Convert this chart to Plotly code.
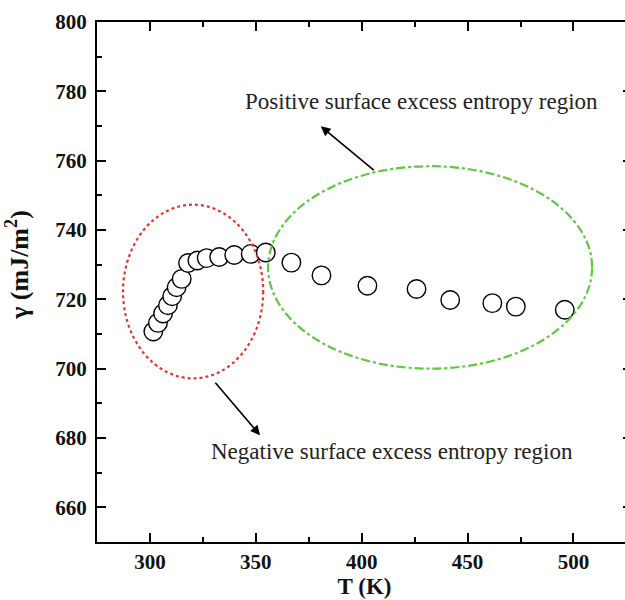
import plotly.graph_objects as go

# Data
T_K = [301.6, 303.8, 306.2, 308.5, 310.5, 312.6, 315.0, 318.0, 322.4, 326.8,
       332.7, 339.8, 347.6, 354.7, 366.8, 381.0, 402.7, 425.9, 441.8, 461.7,
       472.8, 495.9]
gamma = [710.7, 713.2, 715.9, 718.3, 720.9, 723.5, 725.9, 730.5, 731.2, 731.9,
         732.2, 732.8, 733.1, 733.5, 730.6, 726.9, 723.9, 723.0, 719.8, 718.9,
         717.9, 717.0]

x_ticks = [300, 350, 400, 450, 500]
y_ticks = [660, 680, 700, 720, 740, 760, 780, 800]

pos_label = "Positive surface excess entropy region"
neg_label = "Negative surface excess entropy region"
y_title = "<b>γ (mJ/m<sup>2</sup>)</b>"

fig = go.Figure()
fig.add_trace(go.Scatter(
    x=T_K, y=gamma, mode="markers",
    marker=dict(symbol="circle", size=18.5, color="white",
                line=dict(width=1.4, color="black")),
    showlegend=False, cliponaxis=False, hoverinfo="skip"))

serif = "Liberation Serif, Times New Roman, serif"

# ellipses
fig.add_shape(type="circle", xref="x", yref="y", x0=287.3, x1=353.5, y0=697.2, y1=747.3,
              line=dict(color="#e8332b", width=2.2, dash="dot"))
fig.add_shape(type="circle", xref="x", yref="y", x0=355.8, x1=508.8, y0=700.0, y1=758.4,
              line=dict(color="#5ec83e", width=2.2, dash="dashdot"))

# arrows
fig.add_annotation(x=380.7, y=769.9, ax=406.4, ay=756.9, xref="x", yref="y",
                   axref="x", ayref="y", showarrow=True, arrowhead=2, arrowsize=1.2,
                   arrowwidth=1.6, arrowcolor="black", text="")
fig.add_annotation(x=352.0, y=680.8, ax=330.3, ay=696.4, xref="x", yref="y",
                   axref="x", ayref="y", showarrow=True, arrowhead=2, arrowsize=1.2,
                   arrowwidth=1.6, arrowcolor="black", text="")

fig.add_annotation(x=428.3, y=777.2, xref="x", yref="y", text=pos_label, showarrow=False,
                   font=dict(family=serif, size=23, color="#222"))
fig.add_annotation(x=414.1, y=676.0, xref="x", yref="y", text=neg_label, showarrow=False,
                   font=dict(family=serif, size=23, color="#222"))

# y axis title as a rotated annotation (placed in pixels left of the axis)
fig.add_annotation(x=0, xref="paper", xshift=-79, y=0.533, yref="paper", text=y_title,
                   textangle=-90, showarrow=False, xanchor="center", yanchor="middle",
                   font=dict(family=serif, size=26, color="#111"))

axis_common = dict(showline=True, linecolor="black", linewidth=2, ticks="inside",
                   ticklen=9, tickwidth=2, tickcolor="black", mirror="ticks",
                   showgrid=False, zeroline=False, automargin=False,
                   tickfont=dict(family=serif, size=21, color="#111", weight="bold"))

W, L = 632, 97
fig.update_xaxes(range=[275, 275 + (W - L) / 2.1175], tickvals=x_ticks, ticklabelstandoff=0,
                 minor=dict(ticks="inside", ticklen=5, tickwidth=2, tickcolor="black", dtick=25, tick0=275),
                 title=dict(text="<b>T (K)</b>", font=dict(family=serif, size=23, color="#111"), standoff=2),
                 **axis_common)
fig.update_yaxes(range=[650, 800], tickvals=y_ticks, ticklabelstandoff=4,
                 minor=dict(ticks="inside", ticklen=5, tickwidth=2, tickcolor="black", dtick=10, tick0=650),
                 **axis_common)

fig.update_layout(width=W, height=600, plot_bgcolor="white", paper_bgcolor="white",
                  margin=dict(l=L, r=0, t=22, b=58))

# remove the page's default body margin so the figure starts at the window corner;
# the plot's right edge runs just past the window, as in the cropped reference
fig.write_html("out.html", config={"displayModeBar": False}, post_script=(
    "document.body.style.margin='0';"
    "document.body.style.overflow='hidden';"
    "document.documentElement.style.overflow='hidden';"))
